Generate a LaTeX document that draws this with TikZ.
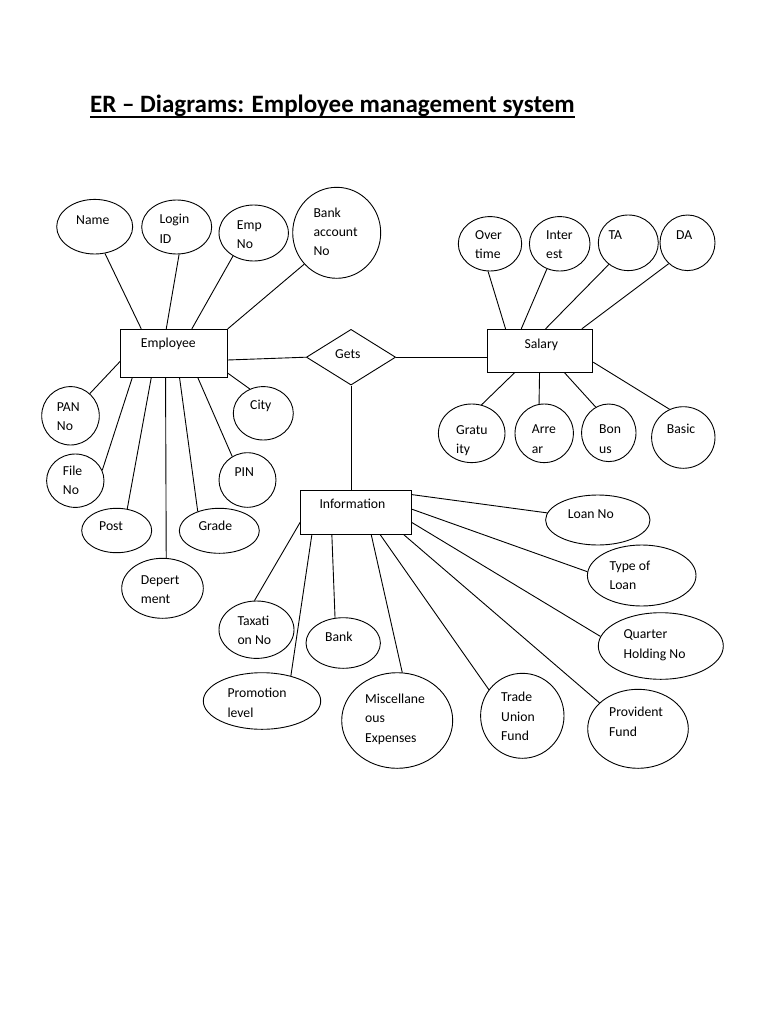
\documentclass[tikz,border=0pt]{standalone}
\usepackage{fontspec}
\setmainfont{Carlito}
\usetikzlibrary{shapes.geometric}
\tikzset{
  attr/.style={draw, ellipse, inner sep=0pt, line width=0.9pt},
  ent/.style={draw, rectangle, inner sep=0pt, line width=0.9pt},
  rel/.style={draw, diamond, inner sep=0pt, line width=0.9pt},
  lbl/.style={anchor=base west, align=left, inner sep=0pt, font=\fontsize{13.7}{19.4}\selectfont},
  link/.style={line width=0.9pt}
}
\begin{document}
\begin{tikzpicture}[x=1pt,y=-1pt]
\useasboundingbox (0,0) rectangle (768,1024);
% title
\node[anchor=base west, inner sep=0pt, font=\fontsize{25}{30}\selectfont\bfseries] (title) at (90,113) {ER – Diagrams: Employee management system};
\draw[line width=1.4pt] ([yshift=-4pt]title.base west) -- ([yshift=-4pt]title.base east);

% entities
\node[ent, minimum width=106.6pt, minimum height=48pt] (emp) at (174,353.3) {};
\node[ent, minimum width=105pt, minimum height=43pt] (sal) at (540.2,350.8) {};
\node[ent, minimum width=110.3pt, minimum height=43.6pt] (info) at (355.85,512.5) {};
\node[rel, minimum width=89.3pt, minimum height=55.7pt] (gets) at (351,357.2) {};

% employee attributes
\node[attr, minimum width=76pt, minimum height=54.6pt] (name) at (94.7,226.7) {};
\node[attr, minimum width=70pt, minimum height=54pt] (login) at (176.7,227) {};
\node[attr, minimum width=69.4pt, minimum height=56pt] (empno) at (253.7,233) {};
\node[attr, minimum width=88pt, minimum height=91pt] (bank) at (336.7,232.8) {};
\node[attr, minimum width=57.6pt, minimum height=58.4pt] (pan) at (70.5,415.8) {};
\node[attr, minimum width=57.4pt, minimum height=53.4pt] (file) at (75.3,480.7) {};
\node[attr, minimum width=70pt, minimum height=44.4pt] (post) at (116.7,530.5) {};
\node[attr, minimum width=81.6pt, minimum height=60pt] (dept) at (162.5,588.3) {};
\node[attr, minimum width=80pt, minimum height=45pt] (grade) at (219.3,530.8) {};
\node[attr, minimum width=57pt, minimum height=54.6pt] (pin) at (247.5,480) {};
\node[attr, minimum width=60pt, minimum height=53.4pt] (city) at (263.3,413.3) {};

% salary attributes
\node[attr, minimum width=63.4pt, minimum height=54.4pt] (over) at (490,243.8) {};
\node[attr, minimum width=60.6pt, minimum height=54.4pt] (inter) at (559.7,243.8) {};
\node[attr, minimum width=60pt, minimum height=55.6pt] (ta) at (628.3,242.8) {};
\node[attr, minimum width=55pt, minimum height=55.6pt] (da) at (687.5,242.8) {};
\node[attr, minimum width=66.6pt, minimum height=58.6pt] (grat) at (471.7,433.3) {};
\node[attr, minimum width=58.4pt, minimum height=58.6pt] (arr) at (544.2,433.3) {};
\node[attr, minimum width=54.4pt, minimum height=57.6pt] (bon) at (608.8,432.8) {};
\node[attr, minimum width=63.4pt, minimum height=61.6pt] (basic) at (683.3,437.5) {};

% information attributes
\node[attr, minimum width=104.4pt, minimum height=50pt] (loan) at (597.8,520) {};
\node[attr, minimum width=108.6pt, minimum height=61pt] (type) at (641.7,575.5) {};
\node[attr, minimum width=125pt, minimum height=66.6pt] (quart) at (660.8,646) {};
\node[attr, minimum width=100.6pt, minimum height=79pt] (prov) at (638,728.8) {};
\node[attr, minimum width=83.4pt, minimum height=85pt] (trade) at (522.3,715.8) {};
\node[attr, minimum width=111pt, minimum height=95.6pt] (misc) at (397.2,720.5) {};
\node[attr, minimum width=74.4pt, minimum height=50.6pt] (ibank) at (343.2,643) {};
\node[attr, minimum width=117.4pt, minimum height=56.6pt] (promo) at (262,701) {};
\node[attr, minimum width=75pt, minimum height=57.4pt] (tax) at (256.5,629.7) {};

% labels (anchor base = baseline of the last line)
\node[lbl] (t-emp) at (140.7,347.7) {Employee};
\node[lbl] (t-gets) at (335,358.4) {Gets};
\node[lbl] (t-sal) at (524.3,348.4) {Salary};
\node[lbl] (t-info) at (319.3,508.4) {Information};

\node[lbl] (t-name) at (76,224.4) {Name};
\node[lbl] (t-login) at (159.3,243.1) {Login\\ID};
\node[lbl] (t-empno) at (236.7,248.8) {Emp\\No};
\node[lbl] (t-bank) at (313.3,255.9) {Bank\\account\\No};
\node[lbl] (t-pan) at (56.7,430.5) {PAN\\No};
\node[lbl] (t-file) at (62.7,494.8) {File\\No};
\node[lbl] (t-post) at (99,530.4) {Post};
\node[lbl] (t-dept) at (140.7,603.8) {Depert\\ment};
\node[lbl] (t-grade) at (198.3,530.4) {Grade};
\node[lbl] (t-pin) at (234.3,476.1) {PIN};
\node[lbl] (t-city) at (250,409.4) {City};

\node[lbl] (t-over) at (475,258.8) {Over\\time};
\node[lbl] (t-inter) at (546,258.8) {Inter\\est};
\node[lbl] (t-ta) at (608.3,239.4) {TA};
\node[lbl] (t-da) at (676,239.4) {DA};
\node[lbl] (t-grat) at (456,453.8) {Gratu\\ity};
\node[lbl] (t-arr) at (531.7,453.1) {Arre\\ar};
\node[lbl] (t-bon) at (599,453.1) {Bon\\us};
\node[lbl] (t-basic) at (666.7,433.7) {Basic};

\node[lbl] (t-loan) at (567.7,518.7) {Loan No};
\node[lbl] (t-type) at (609.3,589.8) {Type of\\Loan};
\node[lbl] (t-quart) at (623.3,658.1) {Quarter\\Holding No};
\node[lbl] (t-prov) at (609,736.1) {Provident\\Fund};
\node[lbl] (t-trade) at (501,740.5) {Trade\\Union\\Fund};
\node[lbl] (t-misc) at (365,742.2) {Miscellane\\ous\\Expenses};
\node[lbl] (t-ibank) at (325,641.1) {Bank};
\node[lbl] (t-promo) at (227.3,717.1) {Promotion\\level};
\node[lbl] (t-tax) at (237.3,644.8) {Taxati\\on No};

% employee connectors
\draw[link] ([xshift=21pt]emp.north west) -- (name.-69);
\draw[link] ([xshift=46pt]emp.north west) -- (login.-85);
\draw[link] ([xshift=71.6pt]emp.north west) -- (empno.-132);
\draw[link] (emp.north east) -- (bank.-136);
\draw[link] ([yshift=-32.4pt]emp.north west) -- (pan.49);
\draw[link] ([xshift=12pt]emp.south west) -- (file.21);
\draw[link] ([xshift=31pt]emp.south west) -- (post.64);
\draw[link] ([xshift=45.3pt]emp.south west) -- (dept.83);
\draw[link] ([xshift=59.3pt]emp.south west) -- (grade.138);
\draw[link] ([xshift=77.6pt]emp.south west) -- (pin.123);
\draw[link] ([yshift=4.6pt]emp.south east) -- (city.119);

% relationship connectors
\draw[link] ([yshift=-6.7pt]emp.east) -- (gets.west);
\draw[link] (gets.east) -- (gets.east -| sal.west);
\draw[link] (gets.south) -- (gets.south |- info.north);

% salary connectors
\draw[link] ([xshift=18.3pt]sal.north west) -- (over.-94);
\draw[link] ([xshift=34pt]sal.north west) -- (inter.-117);
\draw[link] ([xshift=58.3pt]sal.north west) -- (ta.-132);
\draw[link] ([xshift=94.6pt]sal.north west) -- (da.-132);
\draw[link] ([xshift=27.3pt]sal.south west) -- (grat.71);
\draw[link] ([xshift=52.3pt]sal.south west) -- (arr.100);
\draw[link] ([xshift=77.3pt]sal.south west) -- (bon.117);
\draw[link] ([yshift=10.6pt]sal.south east) -- (basic.116);

% information connectors
\draw[link] ([yshift=-4.3pt]info.north east) -- (loan.172);
\draw[link] ([yshift=-18.8pt]info.north east) -- (type.176);
\draw[link] ([yshift=-32pt]info.north east) -- (quart.171);
\draw[link] ([xshift=-7.6pt]info.south east) -- (prov.146);
\draw[link] ([xshift=80pt]info.south west) -- (trade.142);
\draw[link] ([xshift=71pt]info.south west) -- (misc.84);
\draw[link] ([xshift=31.6pt]info.south west) -- (ibank.108);
\draw[link] ([xshift=11.6pt]info.south west) -- (promo.41);
\draw[link] ([yshift=12.6pt]info.south west) -- (tax.94);
\end{tikzpicture}
\end{document}
